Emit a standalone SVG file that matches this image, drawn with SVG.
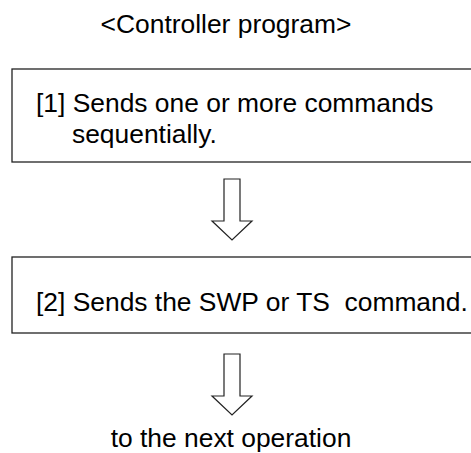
<svg xmlns="http://www.w3.org/2000/svg" width="471" height="453" viewBox="0 0 471 453">
<style>
.t{font-family:"Liberation Sans",Arial,sans-serif;font-size:26.4px;fill:#000;white-space:pre}
.box{fill:#fff;stroke:#222;stroke-width:1.3}
.arr{fill:#fff;stroke:#222;stroke-width:1.2;stroke-linejoin:miter}
</style>
<rect width="471" height="453" fill="#fff"/>
<g id="title"><text class="t" x="226" y="33" text-anchor="middle">&lt;Controller program&gt;</text></g>
<g id="step1">
<rect class="box" x="12" y="69" width="470" height="93"/>
<text class="t" x="36" y="112">[1] Sends one or more commands</text>
<text class="t" x="72" y="143">sequentially.</text>
</g>
<g id="step2">
<rect class="box" x="12" y="257" width="470" height="76"/>
<text class="t" x="36" y="311" xml:space="preserve">[2] Sends the SWP or TS  command.</text>
</g>
<g id="next"><text class="t" x="231" y="447" text-anchor="middle">to the next operation</text></g>
<g id="connectors">
<path class="arr" d="M224,179 H240 V221 H252 L232,240 L212,221 H224 Z"/>
<path class="arr" d="M224,354 H240 V396 H252 L232,415 L212,396 H224 Z"/>
</g>
</svg>
